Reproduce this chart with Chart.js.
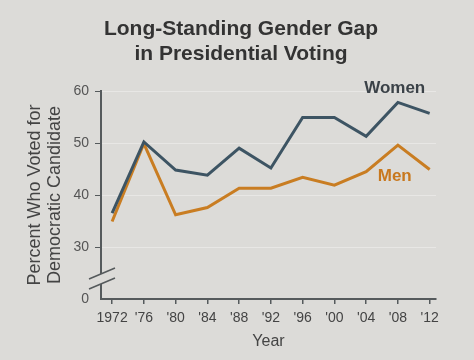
<!DOCTYPE html>
<html><head><meta charset="utf-8">
<script src="https://cdn.jsdelivr.net/npm/chart.js@4/dist/chart.umd.min.js"></script>
<style>
html,body{margin:0;padding:0;background:#dcdbd8;}
#wrap{width:474px;height:360px;position:relative;}
#title{position:absolute;left:0;top:15px;width:482px;text-align:center;font:bold 21px/25px "Liberation Sans", Arial, sans-serif;color:#333;}
canvas{position:absolute;left:0;top:0;}
</style></head>
<body><div id="wrap"><canvas id="c" width="474" height="360"></canvas><div id="title">Long-Standing Gender Gap<br>in Presidential Voting</div></div>
<script>
const years = [1972,1976,1980,1984,1988,1992,1996,2000,2004,2008,2012];
const yearLabels = ['1972',"'76","'80","'84","'88","'92","'96","'00","'04","'08","'12"];
const women = [36.5,50.2,44.8,43.8,49.0,45.2,54.9,54.9,51.3,57.8,55.7];
const men = [34.9,49.9,36.2,37.6,41.3,41.3,43.4,41.9,44.5,49.6,44.9];
const yTickValues = [20,30,40,50,60];
const yTickLabels = ['0','30','40','50','60'];

const BG = '#dcdbd8';
const AX = '#555a5c';
const FONT = '"Liberation Sans", Arial, sans-serif';

const extras = {
  id:'extras',
  afterDraw(chart){
    const {ctx, scales:{x,y}} = chart;
    ctx.save();
    const ax = x.left;
    const yb = y.getPixelForValue(25);
    ctx.fillStyle = BG;
    ctx.beginPath();
    ctx.moveTo(ax-12, yb+6); ctx.lineTo(ax+14, yb-5); ctx.lineTo(ax+14, yb+5); ctx.lineTo(ax-12, yb+16); ctx.closePath();
    ctx.fill();
    ctx.strokeStyle = AX; ctx.lineWidth = 1.5;
    ctx.beginPath();
    ctx.moveTo(ax-12, yb+6); ctx.lineTo(ax+14, yb-5);
    ctx.moveTo(ax-12, yb+16); ctx.lineTo(ax+14, yb+5);
    ctx.stroke();
    ctx.font = 'bold 17px ' + FONT;
    ctx.textAlign = 'center'; ctx.textBaseline = 'middle';
    ctx.fillStyle = '#3b4248';
    ctx.fillText('Women', x.getPixelForValue(2007.6), y.getPixelForValue(60.6));
    ctx.fillStyle = '#c8781e';
    ctx.fillText('Men', x.getPixelForValue(2007.6), y.getPixelForValue(43.5));
    ctx.restore();
  }
};

new Chart(document.getElementById('c'), {
  type:'line',
  data:{
    datasets:[
      {label:'Women', data: years.map((yr,i)=>({x:yr,y:women[i]})), borderColor:'#3d5463', borderWidth:3, pointRadius:0, tension:0},
      {label:'Men', data: years.map((yr,i)=>({x:yr,y:men[i]})), borderColor:'#c97d22', borderWidth:3, pointRadius:0, tension:0}
    ]
  },
  options:{
    responsive:false, animation:false,
    layout:{padding:{left:25,right:38,top:91,bottom:9}},
    plugins:{ legend:{display:false}, tooltip:{enabled:false}, title:{display:false} },
    scales:{
      x:{type:'linear', min:1970.6, max:2012.8,
        afterBuildTicks:s=>{s.ticks = years.map(v=>({value:v}));},
        ticks:{autoSkip:false, maxRotation:0, color:'#444', padding:6,
          font:{family:FONT, size:14},
          callback:(v)=>{const i=years.indexOf(v);return i>=0?yearLabels[i]:'';}},
        grid:{drawOnChartArea:false, tickColor:AX, tickLength:5, lineWidth:1.5},
        border:{color:AX, width:2},
        title:{display:true, text:'Year', color:'#444', padding:{top:1,bottom:0},
          font:{family:FONT, size:16}},
        afterFit:s=>{s.height=52;}
      },
      y:{type:'linear', min:20, max:60,
        afterBuildTicks:s=>{s.ticks = yTickValues.map(v=>({value:v}));},
        ticks:{color:'#555', padding:6,
          font:{family:FONT, size:14},
          callback:(v)=>{const i=yTickValues.indexOf(v);return i>=0?yTickLabels[i]:'';}},
        grid:{color:(c)=>c.tick && c.tick.value===20?'rgba(0,0,0,0)':'rgba(255,255,255,0.35)', tickColor:(c)=>c.tick && c.tick.value===20?'rgba(0,0,0,0)':AX, tickLength:6, lineWidth:1},
        border:{color:AX, width:2},
        title:{display:true, text:['Percent Who Voted for','Democratic Candidate'], color:'#444', padding:{top:0,bottom:0},
          font:{family:FONT, size:18, lineHeight:1.1}},
        afterFit:s=>{s.width=76;}
      }
    }
  },
  plugins:[extras]
});
</script></body></html>
